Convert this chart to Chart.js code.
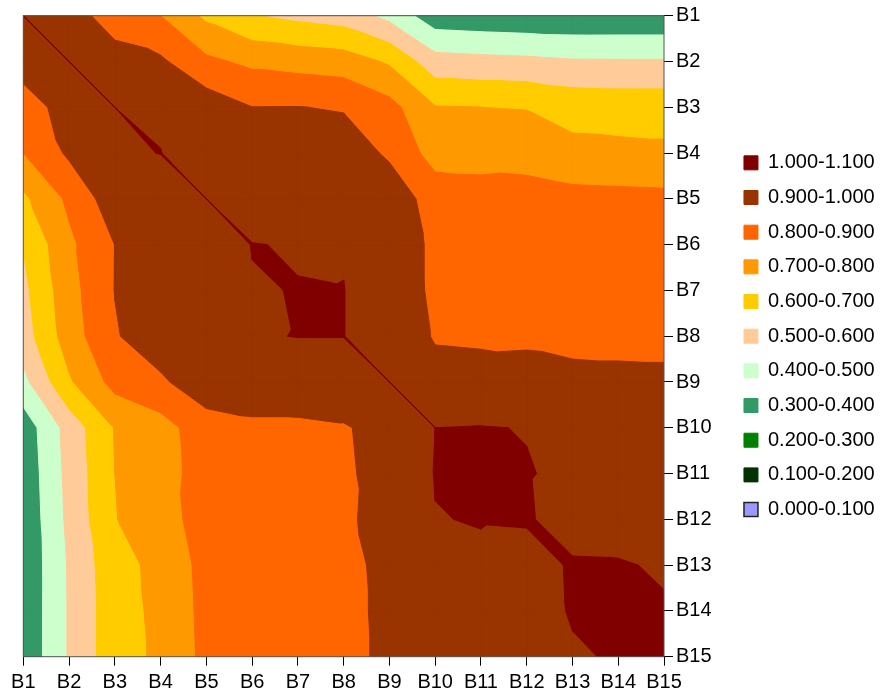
<!DOCTYPE html>
<html>
<head>
<meta charset="utf-8">
<style>
  html, body { margin: 0; padding: 0; background: #fff; }
  #wrap { width: 883px; height: 697px; }
</style>
<script src="https://cdn.jsdelivr.net/npm/chart.js@4/dist/chart.umd.min.js"></script>
</head>
<body>
<div id="wrap"><canvas id="chart" width="883" height="697"></canvas></div>
<script>
// Block names, used on both axes
const names = ['B1', 'B2', 'B3', 'B4', 'B5', 'B6', 'B7', 'B8', 'B9', 'B10', 'B11', 'B12', 'B13', 'B14', 'B15'];

// Contour levels and the fill colour of each band (lowest first)
const levels = [0.0, 0.1, 0.2, 0.3, 0.4, 0.5, 0.6, 0.7, 0.8, 0.9, 1.0, 1.1];
const bandColors = ['#9999FF', '#003300', '#008000', '#339966', '#CCFFCC', '#FFCC99',
                    '#FFCC00', '#FF9900', '#FF6600', '#993300', '#800000'];

// Similarity matrix: diagonal and upper triangle (row i, columns i+1..15)
const diagonal = [1.0, 1.0, 1.0, 1.0012, 1.0, 1.003, 1.0028, 1.001, 1.0, 1.0, 1.004, 1.0052, 1.0055, 1.005, 1.005];
const upper = [
  [0.938, 0.86, 0.80, 0.68, 0.605, 0.575, 0.553, 0.472, 0.34, 0.33, 0.323, 0.32, 0.321, 0.321],
  [0.935, 0.916, 0.82, 0.779, 0.763, 0.749, 0.687, 0.54, 0.53, 0.523, 0.51, 0.509, 0.509],
  [0.99, 0.958, 0.901, 0.902, 0.893, 0.833, 0.705, 0.70, 0.697, 0.668, 0.661, 0.661],
  [0.96, 0.95, 0.95, 0.95, 0.886, 0.758, 0.755, 0.745, 0.725, 0.722, 0.717],
  [0.93, 0.94, 0.94, 0.955, 0.86, 0.849, 0.858, 0.834, 0.829, 0.825],
  [0.994, 0.9966, 0.963, 0.88, 0.86, 0.87, 0.85, 0.85, 0.845],
  [1.001, 0.967, 0.88, 0.87, 0.875, 0.86, 0.86, 0.855],
  [0.967, 0.892, 0.888, 0.89, 0.88, 0.88, 0.88],
  [0.934, 0.93, 0.923, 0.92, 0.917, 0.915],
  [1.003, 0.998, 0.94, 0.935, 0.93],
  [1.003, 0.989, 0.95, 0.945],
  [0.978, 0.975, 0.965],
  [1.0044, 0.9944],
  [1.0048]
];

// build the full symmetric grid
const n = names.length;
const grid = [];
for (let i = 0; i < n; i++) {
  grid.push(new Array(n).fill(0));
  grid[i][i] = diagonal[i];
}
upper.forEach((row, i) => {
  row.forEach((v, k) => {
    const j = i + 1 + k;
    grid[i][j] = v;
    grid[j][i] = v;
  });
});

// keep the part of a polygon where the value is >= lo (values are linear on a triangle)
function clipAbove(poly, lo) {
  const out = [];
  for (let k = 0; k < poly.length; k++) {
    const a = poly[k];
    const b = poly[(k + 1) % poly.length];
    const inA = a.v >= lo;
    const inB = b.v >= lo;
    if (inA) out.push(a);
    if (inA !== inB) {
      const t = (lo - a.v) / (b.v - a.v);
      out.push({ x: a.x + (b.x - a.x) * t, y: a.y + (b.y - a.y) * t, v: lo });
    }
  }
  return out;
}

// triangles of the grid, split along the main-diagonal direction
function gridTriangles() {
  const tris = [];
  const p = (c, r) => ({ x: c + 1, y: r + 1, v: grid[r][c] });
  for (let r = 0; r < n - 1; r++) {
    for (let c = 0; c < n - 1; c++) {
      tris.push([p(c, r), p(c + 1, r + 1), p(c + 1, r)]);
      tris.push([p(c, r), p(c + 1, r + 1), p(c, r + 1)]);
    }
  }
  return tris;
}

// filled contours, each band painted over the lower ones
const contourFill = {
  id: 'contourFill',
  beforeDatasetsDraw(chart) {
    const { ctx, chartArea, scales: { x, y } } = chart;
    const tris = gridTriangles();
    ctx.save();
    ctx.beginPath();
    ctx.rect(chartArea.left, chartArea.top, chartArea.width, chartArea.height);
    ctx.clip();
    ctx.lineJoin = 'round';
    ctx.lineWidth = 1;
    bandColors.forEach((color, b) => {
      const lo = levels[b];
      ctx.fillStyle = color;
      ctx.strokeStyle = color;
      ctx.beginPath();
      tris.forEach(tri => {
        const poly = clipAbove(tri, lo);
        if (poly.length < 2) return;
        poly.forEach((pt, k) => {
          const px = x.getPixelForValue(pt.x);
          const py = y.getPixelForValue(pt.y);
          if (k === 0) ctx.moveTo(px, py); else ctx.lineTo(px, py);
        });
        ctx.closePath();
      });
      ctx.fill();
      ctx.stroke();
    });
    ctx.restore();
  }
};

// plot frame
const frame = {
  id: 'frame',
  afterDatasetsDraw(chart) {
    const { ctx, chartArea } = chart;
    ctx.save();
    ctx.strokeStyle = '#555';
    ctx.lineWidth = 1;
    ctx.strokeRect(chartArea.left, chartArea.top, chartArea.width, chartArea.height);
    ctx.restore();
  }
};

const font = { family: 'Arial, "Liberation Sans", sans-serif', size: 20 };

new Chart(document.getElementById('chart'), {
  type: 'scatter',
  data: { datasets: [] },
  options: {
    responsive: false,
    animation: false,
    layout: { padding: { left: 23.3, top: 15.7, right: 3.7, bottom: 0 } },
    scales: {
      x: {
        type: 'linear', min: 1, max: 15,
        ticks: { stepSize: 1, autoSkip: false, maxRotation: 0, padding: 5, color: '#000', font,
                 callback: v => names[v - 1] },
        grid: { display: true, drawOnChartArea: false, drawTicks: true, tickLength: 9, color: '#000' },
        border: { display: false },
        afterFit(scale) { scale.height = 40.3; }
      },
      y: {
        type: 'linear', position: 'right', reverse: true, min: 1, max: 15,
        ticks: { stepSize: 1, autoSkip: false, padding: 3, color: '#000', font,
                 callback: v => names[v - 1] },
        grid: { display: true, drawOnChartArea: false, drawTicks: true, tickLength: 9, color: '#000' },
        border: { display: false },
        afterFit(scale) { scale.width = 65.3; }
      }
    },
    plugins: {
      tooltip: { enabled: false },
      legend: {
        position: 'right',
        fullSize: false,
        maxWidth: 150,
        labels: {
          boxWidth: 14, boxHeight: 14, padding: 14.67, color: '#000', font,
          generateLabels() {
            const items = [];
            for (let b = bandColors.length - 1; b >= 0; b--) {
              items.push({
                text: levels[b].toFixed(3) + '-' + levels[b + 1].toFixed(3),
                fillStyle: bandColors[b],
                strokeStyle: b === 0 ? '#222' : bandColors[b],
                lineWidth: b === 0 ? 1.5 : 1,
                hidden: false
              });
            }
            return items;
          }
        }
      }
    }
  },
  plugins: [contourFill, frame]
});
</script>
</body>
</html>
